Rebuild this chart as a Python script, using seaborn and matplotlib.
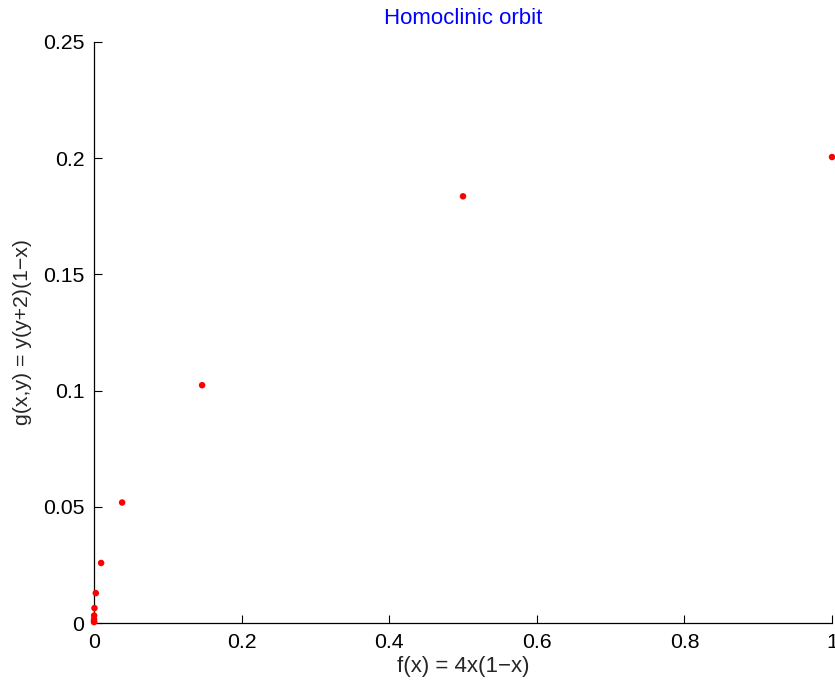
import matplotlib
matplotlib.use("Agg")
import matplotlib.pyplot as plt
import seaborn as sns
import pandas as pd

# Backward orbit points (x_n, y_n) approaching the fixed point at the origin
x_vals = [1.0, 0.5, 0.146447, 0.038060, 0.009607, 0.002408, 0.000602,
          0.0001506, 0.0000376, 0.0000094, 0.0000024]
y_vals = [0.2005, 0.1836, 0.10232, 0.05184, 0.025838, 0.012867, 0.006417,
          0.003204, 0.001601, 0.000800, 0.000400]

x_ticks = [0, 0.2, 0.4, 0.6, 0.8, 1]
x_tick_labels = ["0", "0.2", "0.4", "0.6", "0.8", "1"]
y_ticks = [0, 0.05, 0.1, 0.15, 0.2, 0.25]
y_tick_labels = ["0", "0.05", "0.1", "0.15", "0.2", "0.25"]

df = pd.DataFrame({"x": x_vals, "y": y_vals})

sns.set_theme(style="white")
plt.rcParams["font.family"] = ["Liberation Sans", "DejaVu Sans"]

fig = plt.figure(figsize=(8.35, 6.85), dpi=100)
ax = fig.add_axes([0.1126, 0.0905, 0.8838, 0.8482])

sns.scatterplot(data=df, x="x", y="y", ax=ax, color="#ff0000", s=22,
                edgecolor="none", clip_on=False, zorder=3)

ax.set_xlim(0, 1)
ax.set_ylim(0, 0.25)
ax.set_xticks(x_ticks)
ax.set_xticklabels(x_tick_labels)
ax.set_yticks(y_ticks)
ax.set_yticklabels(y_tick_labels)
ax.tick_params(direction="in", length=6, width=0.8, colors="black",
               labelsize=15.3, bottom=True, left=True)
ax.tick_params(axis="x", pad=7)
ax.tick_params(axis="y", pad=7)

for side in ["top", "right"]:
    ax.spines[side].set_visible(False)
for side in ["left", "bottom"]:
    ax.spines[side].set_color("black")
    ax.spines[side].set_linewidth(0.9)

ax.set_xlabel("f(x) = 4x(1\u2212x)", fontsize=16, labelpad=3)
ax.set_ylabel("g(x,y) = y(y+2)(1\u2212x)", fontsize=15.3, labelpad=8)
ax.set_title("Homoclinic orbit", color="#0000ff", fontsize=16, pad=13)

fig.savefig("out.png", dpi=100)
